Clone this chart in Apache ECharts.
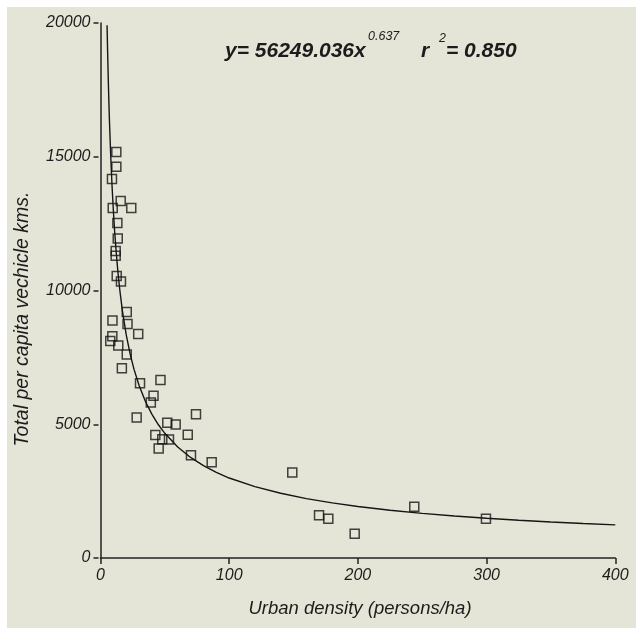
<!DOCTYPE html>
<html>
<head>
<meta charset="utf-8">
<script src="https://cdn.jsdelivr.net/npm/echarts@6/dist/echarts.min.js"></script>
<style>
html,body{margin:0;padding:0;background:#ffffff;}
#chart{width:636px;height:628px;}
</style>
</head>
<body>
<div id="chart"></div>
<script>
// Observed data: urban density (persons/ha) vs total per capita vehicle kms
var densityX = [12.3,12.3,8.9,15.7,9.5,23.9,13.1,13.4,11.8,11.8,12.6,15.9,20.4,21.0,9.3,29.3,9.2,7.6,13.8,20.4,16.6,30.7,46.6,41.2,39.1,28.1,74.2,51.9,58.4,42.6,67.8,48.0,53.2,45.2,70.3,86.4,149.0,169.8,177.0,197.5,243.8,299.5];
var vktY = [15180,14630,14170,13350,13080,13080,12520,11940,11480,11300,10540,10340,9200,8750,8880,8370,8290,8110,7940,7610,7090,6530,6650,6070,5810,5250,5370,5060,4990,4600,4610,4440,4430,4090,3840,3580,3200,1600,1470,910,1920,1470];

// Fitted curve as drawn in the picture
var curveX = [5.1,5.5,6,6.5,7,8,9,10,11,12,13,14,15,17,20,23,26,30,35,40,45,50,60,70,80,90,100,120,140,160,180,200,225,250,275,300,325,350,375,400];
var curveY = [19920,18990,17970,17070,16280,14960,13880,12980,12210,11560,10980,10470,10020,9250,8340,7630,7060,6450,5840,5370,4980,4660,4150,3760,3450,3200,2990,2670,2420,2220,2060,1925,1785,1670,1571,1487,1413,1348,1290,1237];

var xTicks = [0,100,200,300,400];
var yTicks = [0,5000,10000,15000,20000];

var xName = 'Urban density (persons/ha)';
var yName = 'Total per capita vechicle kms.';
var eqMain = 'y= 56249.036x';
var eqExp = '0.637';
var eqR = 'r';
var eqR2 = '2';
var eqVal = '= 0.850';

var chart = echarts.init(document.getElementById('chart'), null, {renderer:'canvas'});
var pts = densityX.map(function(x,i){return [x, vktY[i]];});
var curve = curveX.map(function(x,i){return [x, curveY[i]];});

var FONT = '"Liberation Sans", Arial, sans-serif';
var labelStyle = {fontFamily: FONT, fontStyle:'italic', fontSize:16, color:'#1c1c1c'};

var option = {
  backgroundColor: '#ffffff',
  animation: false,
  grid: {left:100.5, right:20.7, top:23, bottom:70},
  xAxis: {
    type:'value', min:xTicks[0], max:xTicks[xTicks.length-1], interval:100,
    axisLine:{show:true, lineStyle:{color:'#222', width:1.5}},
    axisTick:{show:true, length:6, lineStyle:{color:'#222', width:1.5}},
    axisLabel:Object.assign({margin:10, formatter:function(v){return String(v);}}, labelStyle),
    splitLine:{show:false}
  },
  yAxis: [{
    type:'value', min:yTicks[0], max:yTicks[yTicks.length-1], interval:5000,
    axisLine:{show:true, lineStyle:{color:'#222', width:1.5}},
    axisTick:{show:false}, axisLabel:{show:false}, splitLine:{show:false}
  },{
    type:'value', min:yTicks[0], max:yTicks[yTicks.length-1], interval:5000,
    position:'left', offset:2,
    axisLine:{show:false},
    axisTick:{show:true, length:5, lineStyle:{color:'#222', width:1.5}},
    axisLabel:Object.assign({margin:8, formatter:function(v){return String(v);}}, labelStyle),
    splitLine:{show:false}
  }],
  graphic: [
    {type:'rect', z:-10, shape:{x:7, y:7, width:629, height:621}, style:{fill:'#e5e5d7'}, silent:true},
    {type:'text', x:360, y:609, style:{text:xName, font:'italic 18.5px '+FONT, fill:'#1c1c1c', textAlign:'center', textVerticalAlign:'middle'}},
    {type:'text', x:23, y:319, rotation:Math.PI/2, style:{text:yName, font:'italic 19.5px '+FONT, fill:'#1c1c1c', textAlign:'center', textVerticalAlign:'middle'}},
    {type:'text', x:225, y:51, style:{text:eqMain, font:'italic bold 21px '+FONT, fill:'#1c1c1c', textVerticalAlign:'middle'}},
    {type:'text', x:368, y:37, style:{text:eqExp, font:'italic 12.5px '+FONT, fill:'#1c1c1c', textVerticalAlign:'middle'}},
    {type:'text', x:421, y:51, style:{text:eqR, font:'italic bold 21px '+FONT, fill:'#1c1c1c', textVerticalAlign:'middle'}},
    {type:'text', x:439, y:39, style:{text:eqR2, font:'italic 12.5px '+FONT, fill:'#1c1c1c', textVerticalAlign:'middle'}},
    {type:'text', x:446, y:51, style:{text:eqVal, font:'italic bold 21px '+FONT, fill:'#1c1c1c', textVerticalAlign:'middle'}}
  ],
  series: [
    {type:'line', data:curve, symbol:'none', smooth:false, clip:true,
     lineStyle:{color:'#151515', width:1.4}, z:2},
    {type:'scatter', data:pts, symbol:'rect', symbolSize:9,
     itemStyle:{color:'rgba(0,0,0,0)', borderColor:'#151515', borderWidth:1.5}, z:3}
  ]
};
chart.setOption(option);
</script>
</body>
</html>
